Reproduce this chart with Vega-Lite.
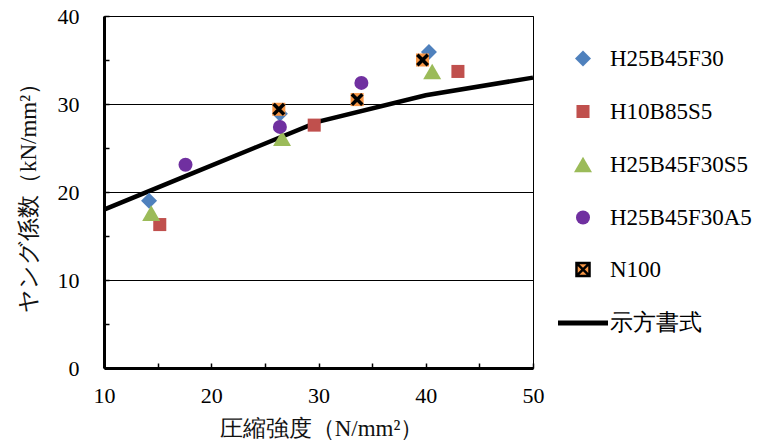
{
  "$schema": "https://vega.github.io/schema/vega-lite/v6.json",
  "width": 429,
  "height": 352,
  "autosize": "none",
  "padding": {"left": 104, "top": 16, "right": 227, "bottom": 73},
  "background": "white",
  "config": {
    "font": "Liberation Serif, DejaVu Serif, serif",
    "view": {"stroke": "black", "strokeWidth": 1},
    "axis": {
      "labelFont": "Liberation Serif, DejaVu Serif, serif",
      "labelFontSize": 22,
      "labelColor": "black",
      "labelFlush": false,
      "titleFont": "Liberation Serif, DejaVu Serif, serif",
      "titleFontSize": 23,
      "titleFontWeight": "normal",
      "titleColor": "#111",
      "domainColor": "black",
      "domainWidth": 3,
      "tickColor": "black",
      "tickWidth": 1.5,
      "tickSize": -5
    },
    "legend": {
      "labelFont": "Liberation Serif, DejaVu Serif, serif",
      "labelFontSize": 23,
      "labelColor": "black",
      "symbolStrokeWidth": 2.5
    }
  },
  "datasets": {
    "pts": [
      {"series": "H25B45F30", "strength": 14.2, "modulus": 19.0},
      {"series": "H25B45F30", "strength": 26.4, "modulus": 28.9},
      {"series": "H25B45F30", "strength": 40.3, "modulus": 35.9},
      {"series": "H10B85S5", "strength": 15.2, "modulus": 16.3},
      {"series": "H10B85S5", "strength": 29.6, "modulus": 27.6},
      {"series": "H10B85S5", "strength": 43.0, "modulus": 33.7},
      {"series": "H25B45F30S5", "strength": 14.4, "modulus": 17.6},
      {"series": "H25B45F30S5", "strength": 26.6, "modulus": 26.1},
      {"series": "H25B45F30S5", "strength": 40.6, "modulus": 33.7},
      {"series": "H25B45F30A5", "strength": 17.6, "modulus": 23.1},
      {"series": "H25B45F30A5", "strength": 26.4, "modulus": 27.4},
      {"series": "H25B45F30A5", "strength": 34.0, "modulus": 32.4},
      {"series": "N100", "strength": 26.3, "modulus": 29.4},
      {"series": "N100", "strength": 33.6, "modulus": 30.5},
      {"series": "N100", "strength": 39.7, "modulus": 35.0}
    ],
    "line": [
      {"series": "示方書式", "strength": 10, "modulus": 18},
      {"series": "示方書式", "strength": 18, "modulus": 22},
      {"series": "示方書式", "strength": 24, "modulus": 25},
      {"series": "示方書式", "strength": 30, "modulus": 28},
      {"series": "示方書式", "strength": 40, "modulus": 31},
      {"series": "示方書式", "strength": 50, "modulus": 33}
    ]
  },
  "encoding": {
    "x": {
      "field": "strength", "type": "quantitative",
      "scale": {"domain": [10, 50], "nice": false, "zero": false},
      "axis": {
        "title": "圧縮強度（N/mm²）",
        "values": [10, 15, 20, 25, 30, 35, 40, 45, 50],
        "labelExpr": "datum.value % 10 === 0 ? datum.label : ''",
        "labelPadding": 22,
        "grid": false,
        "titleY": 60,
        "titleX": 217,
        "titleBaseline": "middle"
      }
    },
    "y": {
      "field": "modulus", "type": "quantitative",
      "scale": {"domain": [0, 40], "nice": false},
      "axis": {
        "title": "ヤング係数（kN/mm²）",
        "values": [0, 5, 10, 15, 20, 25, 30, 35, 40],
        "labelExpr": "datum.value % 10 === 0 ? datum.label : ''",
        "labelPadding": 30,
        "grid": true,
        "gridColor": {"condition": {"test": "datum.value % 10 === 0", "value": "black"}, "value": "transparent"},
        "gridWidth": 1,
        "titleX": -76,
        "titleBaseline": "middle"
      }
    }
  },
  "layer": [
    {
      "data": {"name": "line"},
      "mark": {"type": "line", "stroke": "black", "strokeWidth": 4.5},
      "encoding": {}
    },
    {
      "data": {"name": "pts"},
      "transform": [{"filter": "datum.series !== 'N100'"}],
      "mark": {"type": "point", "filled": true, "opacity": 1},
      "encoding": {
        "fill": {
          "field": "series", "type": "nominal",
          "scale": {
            "domain": ["H25B45F30", "H10B85S5", "H25B45F30S5", "H25B45F30A5", "N100", "示方書式"],
            "range": ["#4F81BD", "#C0504D", "#9BBB59", "#7030A0", "#F79646", "black"]
          },
          "legend": {
            "title": null,
            "orient": "none",
            "legendX": 465,
            "legendY": 31,
            "padding": 0,
            "rowPadding": 27,
            "labelOffset": 13,
            "symbolOpacity": 1
          }
        },
        "stroke": {
          "field": "series", "type": "nominal",
          "scale": {
            "domain": ["H25B45F30", "H10B85S5", "H25B45F30S5", "H25B45F30A5", "N100", "示方書式"],
            "range": ["transparent", "transparent", "transparent", "transparent", "black", "transparent"]
          }
        },
        "shape": {
          "field": "series", "type": "nominal",
          "scale": {
            "domain": ["H25B45F30", "H10B85S5", "H25B45F30S5", "H25B45F30A5", "N100", "示方書式"],
            "range": ["diamond", "square", "triangle-up", "circle", "M-1,-1L1,-1L1,1L-1,1Z M-0.8,-0.8L0.8,0.8 M0.8,-0.8L-0.8,0.8", "M-2,-0.2L2,-0.2L2,0.2L-2,0.2Z"]
          }
        },
        "size": {
          "field": "series", "type": "nominal",
          "scale": {
            "type": "ordinal",
            "domain": ["H25B45F30", "H10B85S5", "H25B45F30S5", "H25B45F30A5", "N100", "示方書式"],
            "range": [256, 170, 324, 196, 170, 625]
          }
        }
      }
    },
    {
      "data": {"name": "pts"},
      "transform": [{"filter": "datum.series === 'N100'"}],
      "mark": {"type": "point", "shape": "square", "filled": true, "fill": "#F79646", "opacity": 1, "size": 170, "strokeWidth": 0}
    },
    {
      "data": {"name": "pts"},
      "transform": [{"filter": "datum.series === 'N100'"}],
      "mark": {"type": "point", "shape": "M-1,-1L1,1M1,-1L-1,1", "filled": false, "stroke": "black", "strokeWidth": 3.5, "opacity": 1, "size": 110}
    }
  ]
}
